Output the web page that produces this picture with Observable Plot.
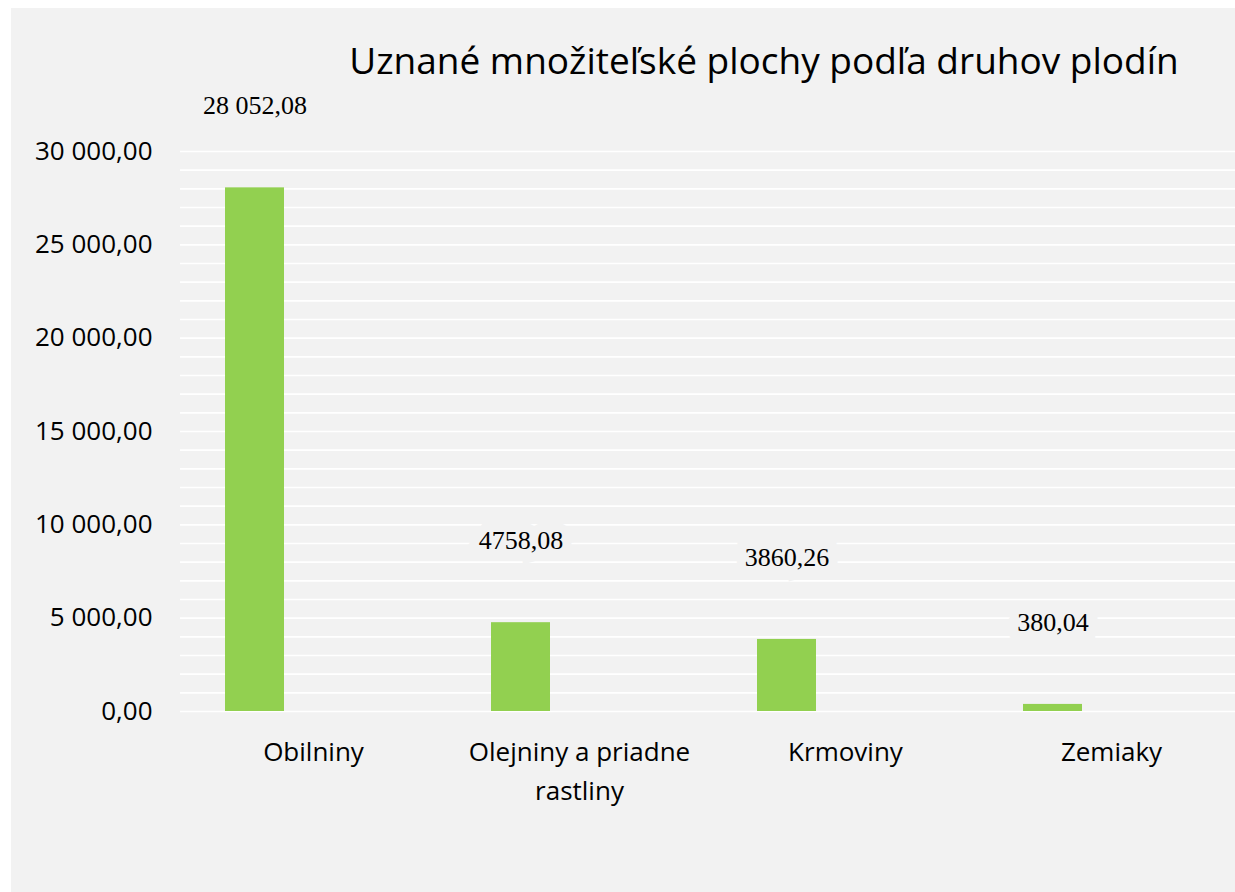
<!DOCTYPE html>
<html>
<head>
<meta charset="utf-8">
<script src="https://cdn.jsdelivr.net/npm/d3@7"></script>
<script src="https://cdn.jsdelivr.net/npm/@observablehq/plot@0.6"></script>
<style>
  html, body { margin: 0; padding: 0; background: #ffffff; overflow: hidden; width: 1235px; height: 892px; }
  #bg { position: absolute; left: 11px; top: 8px; width: 1224px; height: 884px; background: #f2f2f2; }
  #chart { position: absolute; left: 0; top: 0; }
  #title { position: absolute; left: 764px; top: 41px; transform: translateX(-50%); white-space: nowrap;
           font-family: "Open Sans", sans-serif; font-size: 37px; color: #000; line-height: 1; }
</style>
</head>
<body>
<div id="bg"></div>
<div id="chart"></div>
<div id="title">Uznané množiteľské plochy podľa druhov plodín</div>
<script>
const categories = ["Obilniny", "Olejniny a priadne rastliny", "Krmoviny", "Zemiaky"];
const values = [28052.08, 4758.08, 3860.26, 380.04];
const valueLabels = ["28 052,08", "4758,08", "3860,26", "380,04"];
const seriesSlots = ["plocha", "s2", "s3"];
const yTickValues = [0, 5000, 10000, 15000, 20000, 25000, 30000];
const yTickLabels = ["0,00", "5 000,00", "10 000,00", "15 000,00", "20 000,00", "25 000,00", "30 000,00"];

const data = categories.map((c, i) => ({category: c, value: values[i], label: valueLabels[i], slot: seriesSlots[0]}));

const plot = Plot.plot({
  width: 1245,
  height: 892,
  marginLeft: 178,
  marginRight: 0,
  marginTop: 151,
  marginBottom: 181,
  style: {background: "transparent", maxWidth: "none", overflow: "visible"},
  fx: {domain: categories, padding: 0, label: null},
  x: {domain: seriesSlots, paddingInner: 0, paddingOuter: 0.72, axis: null},
  y: {domain: [0, 30000], label: null},
  marks: [
    Plot.gridY({ticks: d3.range(0, 30001, 1000), stroke: "#ffffff", strokeOpacity: 1, strokeWidth: 1.6}),
    Plot.axisY({ticks: yTickValues, tickFormat: (d) => yTickLabels[yTickValues.indexOf(d)], tickSize: 0, tickPadding: 28,
      fontSize: 26, fontFamily: "Open Sans", fill: "#000", label: null}),
    Plot.axisFx({anchor: "bottom", tickSize: 0, tickPadding: 22, fontSize: 26, fontFamily: "Open Sans",
      fill: "#000", lineWidth: 9, lineHeight: 1.5, label: null}),
    Plot.barY(data, {fx: "category", x: "slot", y: "value", fill: "#92d050"}),
    Plot.text(data, {fx: "category", x: "slot", y: "value", text: "label", dy: -82,
      fontFamily: "Liberation Serif", fontSize: 26, fill: "#000",
      stroke: "#f2f2f2", strokeWidth: 18, strokeLinejoin: "miter", paintOrder: "stroke"})
  ]
});
document.getElementById("chart").appendChild(plot);
</script>
</body>
</html>
